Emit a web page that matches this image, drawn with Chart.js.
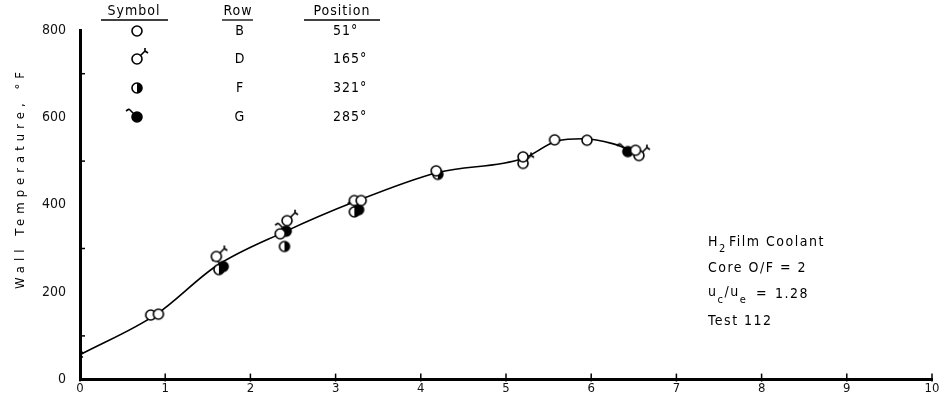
<!DOCTYPE html>
<html>
<head>
<meta charset="utf-8">
<script src="https://cdn.jsdelivr.net/npm/chart.js@4.4.1/dist/chart.umd.min.js"></script>
<style>
  html, body { margin: 0; background: #fff; }
</style>
</head>
<body>
<canvas id="chart" width="945" height="402"></canvas>
<script>
// values (x = axis units, y = wall temperature, deg F)
const rowB = [[0.83, 150], [0.92, 152], [2.35, 336], [3.22, 412], [3.3, 412], [4.18, 480], [5.2, 512], [5.57, 551], [5.95, 550], [6.52, 527]];
const rowD = [[1.6, 284], [2.43, 366], [5.2, 497], [6.56, 515]];
const rowF = [[1.63, 254], [2.4, 307], [3.22, 386], [4.2, 472]];
const rowG = [[1.68, 261], [2.42, 342], [3.27, 391], [6.43, 524]];
const startPoint = [[0, 57]];
const fairedCurve = [[0, 57], [0.9, 150], [1.6, 260], [2.4, 338], [3.2, 405], [4.2, 474], [5.2, 506], [5.6, 546], [5.9, 551], [6.25, 540], [6.58, 515]];

const xTickValues = [0, 1, 2, 3, 4, 5, 6, 7, 8, 9, 10];
const yTickValues = [0, 200, 400, 600, 800];
const yMinorValues = [100, 300, 500, 700];

const legendRows = ['B', 'D', 'F', 'G'];
const legendPositions = ['51°', '165°', '321°', '285°'];
const noteLines = ['Core O/F = 2', 'Test 112'];

const FONT = '"DejaVu Sans Condensed", "Liberation Sans Narrow", sans-serif';

function symbol(kind) {
  const c = document.createElement('canvas');
  c.width = 24; c.height = 24;
  const g = c.getContext('2d');
  const cx = 12, cy = 13, r = 5;
  g.lineWidth = 1.6;
  g.strokeStyle = '#000';
  g.fillStyle = kind === 'G' ? '#000' : '#fff';
  g.beginPath(); g.arc(cx, cy, r, 0, Math.PI * 2); g.fill(); g.stroke();
  if (kind === 'F') {
    g.fillStyle = '#000';
    g.beginPath(); g.arc(cx, cy, r, -Math.PI / 2, Math.PI / 2); g.closePath(); g.fill();
  }
  if (kind === 'D') {
    g.beginPath();
    g.moveTo(cx + 3.5, cy - 3.5); g.lineTo(cx + 8, cy - 8);
    g.moveTo(cx + 8, cy - 8); g.lineTo(cx + 11, cy - 6);
    g.moveTo(cx + 8, cy - 8); g.lineTo(cx + 8, cy - 11);
    g.stroke();
  }
  if (kind === 'G') {
    g.beginPath();
    g.moveTo(cx - 3.5, cy - 3.5); g.lineTo(cx - 8, cy - 8);
    g.moveTo(cx - 8, cy - 8); g.lineTo(cx - 11, cy - 6);
    g.stroke();
  }
  return c;
}

const symbols = { B: symbol('B'), D: symbol('D'), F: symbol('F'), G: symbol('G') };

function pts(arr) {
  return arr.map(p => ({ x: p[0], y: p[1] }));
}

function pointSet(label, arr, style) {
  return {
    type: 'scatter',
    label: label,
    data: pts(arr),
    pointStyle: style,
    pointRadius: 6,
    showLine: false,
    order: 0
  };
}

const paper = {
  id: 'paper',
  afterDraw(chart) {
    const { ctx, scales: { x, y } } = chart;
    const y0 = y.getPixelForValue(0);
    ctx.save();
    ctx.strokeStyle = '#000';
    ctx.fillStyle = '#000';

    // tick marks on the axes
    ctx.lineWidth = 1.5;
    xTickValues.forEach(v => {
      const px = x.getPixelForValue(v);
      ctx.beginPath(); ctx.moveTo(px, y0 - 6); ctx.lineTo(px, y0 + 2); ctx.stroke();
    });
    yMinorValues.forEach(v => {
      const py = y.getPixelForValue(v);
      ctx.beginPath(); ctx.moveTo(x.left, py); ctx.lineTo(x.left + 5, py); ctx.stroke();
    });

    // y axis title
    ctx.save();
    ctx.translate(21, 178);
    ctx.rotate(-Math.PI / 2);
    ctx.font = '13px ' + FONT;
    ctx.letterSpacing = '5px';
    ctx.textAlign = 'center';
    ctx.textBaseline = 'middle';
    ctx.fillText('Wall Temperature, °F', 0, 0);
    ctx.restore();

    // legend table
    ctx.font = '14px ' + FONT;
    ctx.textBaseline = 'middle';
    ctx.textAlign = 'center';
    ctx.letterSpacing = '1px';
    ctx.fillText('Symbol', 134, 11);
    ctx.fillText('Row', 238, 11);
    ctx.fillText('Position', 342, 11);
    ctx.lineWidth = 1.3;
    [[101, 168], [222, 253], [304, 380]].forEach(u => {
      ctx.beginPath(); ctx.moveTo(u[0], 20); ctx.lineTo(u[1], 20); ctx.stroke();
    });
    const rowY = [31, 59, 88, 117];
    legendRows.forEach((r, i) => {
      const s = symbols[r];
      ctx.drawImage(s, 137 - s.width / 2, rowY[i] - s.height / 2 - 1);
      ctx.textAlign = 'center';
      ctx.fillText(r, 240, rowY[i]);
      ctx.textAlign = 'left';
      ctx.fillText(legendPositions[i], 333, rowY[i]);
    });

    // test note
    ctx.font = '14px ' + FONT;
    ctx.letterSpacing = '1.5px';
    ctx.textAlign = 'left';
    ctx.fillText('H', 708, 242);
    let w = ctx.measureText('H').width;
    ctx.font = '11px ' + FONT;
    ctx.fillText('2', 708 + w, 249);
    ctx.font = '14px ' + FONT;
    ctx.fillText('Film Coolant', 708 + w + 10, 242);
    ctx.fillText(noteLines[0], 708, 268);
    ctx.fillText('u', 708, 292);
    w = ctx.measureText('u').width;
    ctx.font = '11px ' + FONT;
    ctx.fillText('c', 708 + w, 300);
    ctx.font = '14px ' + FONT;
    ctx.fillText('/u', 708 + w + 7, 292);
    const w2 = ctx.measureText('/u').width;
    ctx.font = '11px ' + FONT;
    ctx.fillText('e', 708 + w + 7 + w2, 300);
    ctx.font = '14px ' + FONT;
    ctx.fillText('=', 756, 294);
    ctx.fillText('1.28', 775, 294);
    ctx.fillText(noteLines[1], 708, 321);
    ctx.restore();
  }
};

new Chart(document.getElementById('chart'), {
  type: 'scatter',
  data: {
    datasets: [
      {
        type: 'line',
        label: 'faired',
        data: pts(fairedCurve),
        borderColor: '#000',
        borderWidth: 1.6,
        pointRadius: 0,
        cubicInterpolationMode: 'monotone',
        fill: false,
        order: 10
      },
      pointSet('Row B', rowB, symbols.B),
      pointSet('Row D', rowD, symbols.D),
      pointSet('Row F', rowF, symbols.F),
      pointSet('Row G', rowG, symbols.G),
      {
        type: 'scatter',
        label: 'start',
        data: pts(startPoint),
        pointStyle: 'crossRot',
        pointRadius: 4,
        borderColor: '#000',
        borderWidth: 1.5,
        order: 0
      }
    ]
  },
  options: {
    responsive: false,
    animation: false,
    layout: { padding: { top: 30, right: 13, left: 0, bottom: -5 } },
    plugins: { legend: { display: false }, tooltip: { enabled: false } },
    elements: { point: { borderColor: '#000', backgroundColor: '#fff' } },
    scales: {
      x: {
        type: 'linear',
        min: 0,
        max: 10,
        afterFit(scale) { scale.height = 14; },
        afterBuildTicks(scale) { scale.ticks = xTickValues.map(v => ({ value: v })); },
        grid: { display: false, drawTicks: false },
        border: { display: true, width: 3, color: '#000' },
        ticks: { padding: 1, color: '#111', font: { family: FONT, size: 13 } }
      },
      y: {
        type: 'linear',
        min: 0,
        max: 800,
        afterFit(scale) { scale.width = 80; },
        afterBuildTicks(scale) { scale.ticks = yTickValues.map(v => ({ value: v })); },
        grid: { display: false, drawTicks: false },
        border: { display: true, width: 3, color: '#000' },
        ticks: { padding: 14, color: '#111', font: { family: FONT, size: 14 } }
      }
    }
  },
  plugins: [paper]
});
</script>
</body>
</html>
